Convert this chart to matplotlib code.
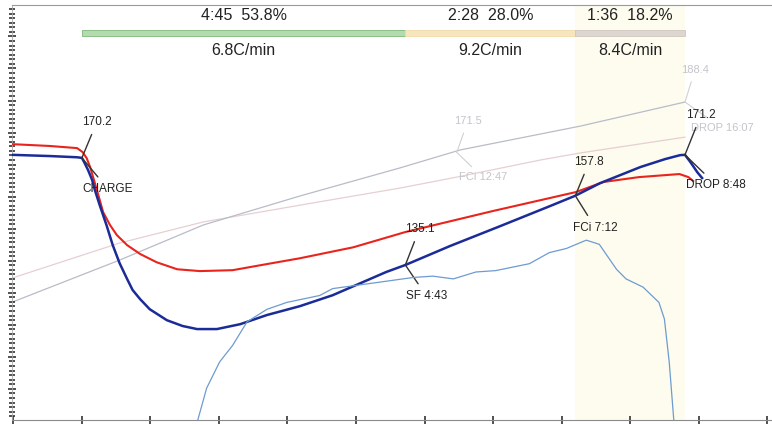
import matplotlib
matplotlib.use("Agg")
import matplotlib.pyplot as plt
from matplotlib.ticker import MultipleLocator

plt.rcParams['font.family'] = ['Liberation Sans', 'DejaVu Sans']

# bean temperature (minutes from charge, deg C)
bt_time = [-1.02, -0.47, -0.07, 0.0, 0.04, 0.09, 0.15, 0.19, 0.26, 0.36, 0.45, 0.55, 0.66,
           0.74, 0.85, 0.99, 1.24, 1.47, 1.68, 1.97, 2.31, 2.70, 3.18, 3.66, 4.44, 4.72,
           5.37, 6.10, 6.83, 7.20, 7.56, 8.15, 8.51, 8.73, 8.80, 8.88, 8.98, 9.05]
bt_temp = [171.2, 170.8, 170.4, 170.2, 168.5, 166.2, 162.9, 159.6, 154.7, 148.1, 141.6, 135.7, 130.5,
           126.9, 123.9, 120.6, 117.0, 115.1, 114.1, 114.1, 115.7, 118.7, 121.6, 125.2, 132.8, 135.1,
           141.3, 147.8, 154.4, 157.8, 161.9, 167.2, 169.8, 171.1, 171.2, 168.8, 165.5, 163.6]

# environment temperature
et_time = [-1.02, -0.47, -0.07, 0.01, 0.07, 0.12, 0.22, 0.31, 0.41, 0.51, 0.66, 0.85,
           1.09, 1.39, 1.72, 2.20, 2.70, 3.18, 3.96, 4.72, 6.00, 7.21, 7.61, 8.13, 8.72,
           8.85, 8.92]
et_temp = [174.7, 174.1, 173.4, 172.1, 170.1, 167.2, 159.6, 152.4, 148.2, 144.9, 141.6, 138.7,
           136.0, 133.7, 133.1, 133.4, 135.4, 137.3, 140.9, 145.9, 152.8, 159.0, 162.3, 163.9, 164.9,
           163.9, 162.6]

# background reference profile
ref_bt_time = [-1.02, 0.55, 1.77, 3.18, 4.64, 5.52, 7.27, 8.80]
ref_bt_temp = [122.9, 136.7, 148.2, 157.7, 166.9, 172.8, 180.6, 188.5]
ref_et_time = [-1.02, 0.55, 1.77, 3.18, 4.64, 5.47, 6.69, 7.27, 8.80]
ref_et_temp = [130.8, 142.3, 149.2, 154.7, 160.3, 163.9, 169.5, 171.8, 177.0]

# rate of rise (C/min)
ror_time = [1.68, 1.82, 2.01, 2.20, 2.41, 2.70, 2.99, 3.47, 3.66, 4.25, 4.54, 4.83, 5.12,
            5.42, 5.75, 6.04, 6.53, 6.82, 7.07, 7.36, 7.55, 7.80, 7.94, 8.19, 8.42, 8.50,
            8.57, 8.64]
ror_val = [-0.2, 2.3, 4.2, 5.4, 7.1, 8.0, 8.5, 9.0, 9.5, 9.9, 10.1, 10.3, 10.4,
           10.2, 10.7, 10.8, 11.3, 12.1, 12.4, 13.0, 12.7, 10.9, 10.2, 9.6, 8.5, 7.3,
           4.2, -0.2]

# roast phases
phase_start = [0.0, 4.72, 7.2]
phase_end = [4.72, 7.2, 8.8]
phase_top = ["4:45  53.8%", "2:28  28.0%", "1:36  18.2%"]
phase_rate = ["6.8C/min", "9.2C/min", "8.4C/min"]
phase_colors = ["#b3dcae", "#f7e6bd", "#ddd5cf"]
phase_edges = ["#7fb87a", "#f0dca8", "#cfc6bf"]

# events
event_time = [0.0, 4.72, 7.2, 8.8]
event_temp = [170.2, 135.1, 157.8, 171.2]
event_value = ["170.2", "135.1", "157.8", "171.2"]
event_name = ["CHARGE", "SF 4:43", "FCi 7:12", "DROP 8:48"]
value_offset = [(15, 36), (14, 36), (14, 34), (16, 40)]
name_offset = [(26, -31), (21, -31), (20, -32), (31, -30)]

ref_event_time = [5.47, 8.8]
ref_event_temp = [172.0, 188.5]
ref_event_value = ["171.5", "188.4"]
ref_event_name = ["FCi 12:47", "DROP 16:07"]
ref_value_offset = [(11, 31), (10, 32)]
ref_name_offset = [(26, -25), (37, -26)]

fig = plt.figure(figsize=(7.72, 4.25), dpi=100)
ax = fig.add_axes([12 / 772, 5 / 425, 1 - 12 / 772, 415 / 425])
ax.set_xlim(-1.02, 10.07)
ax.set_ylim(84.3, 220.3)

ax.axvspan(7.2, 8.8, color="#fdfcef", zorder=0, lw=0)

ax.plot(ref_et_time, ref_et_temp, color="#e6cfd3", lw=0.9, zorder=1)
ax.plot(ref_bt_time, ref_bt_temp, color="#b9bcc8", lw=0.9, zorder=1)
ax.plot(et_time, et_temp, color="#e8241c", lw=1.5, zorder=3)
ax.plot(bt_time, bt_temp, color="#1b2b97", lw=1.8, zorder=4)

ax2 = ax.twinx()
ax2.set_ylim(0, 30)
ax2.plot(ror_time, ror_val, color="#6e9bd0", lw=0.9)
ax2.axis("off")

# phase bars and labels
for s, e, c, ec, top, rate in zip(phase_start, phase_end, phase_colors, phase_edges,
                                  phase_top, phase_rate):
    ax.broken_barh([(s, e - s)], (210.1, 2.0), facecolors=c, edgecolors=ec, lw=0.6, zorder=2)
    mid = (s + e) / 2
    ax.text(mid, 217.0, top, ha="center", va="center", fontsize=11.5, color="#222222")
    ax.text(mid, 205.5, rate, ha="center", va="center", fontsize=11.5, color="#222222")

for t, y, val, name, vo, no in zip(event_time, event_temp, event_value, event_name,
                                   value_offset, name_offset):
    ax.annotate(val, xy=(t, y), xytext=vo, textcoords="offset pixels", ha="center",
                va="center", fontsize=8.5, color="#222222", zorder=6,
                arrowprops=dict(arrowstyle="-", color="#333333", lw=1.0, shrinkA=3, shrinkB=0))
    ax.annotate(name, xy=(t, y), xytext=no, textcoords="offset pixels", ha="center",
                va="center", fontsize=8.5, color="#222222", zorder=6,
                arrowprops=dict(arrowstyle="-", color="#333333", lw=1.0, shrinkA=3, shrinkB=0))

for t, y, val, name, vo, no in zip(ref_event_time, ref_event_temp, ref_event_value,
                                   ref_event_name, ref_value_offset, ref_name_offset):
    ax.annotate(val, xy=(t, y), xytext=vo, textcoords="offset pixels", ha="center",
                va="center", fontsize=8, color="#c4c4cc", zorder=2,
                arrowprops=dict(arrowstyle="-", color="#d0d0d6", lw=0.8, shrinkA=3, shrinkB=0))
    ax.annotate(name, xy=(t, y), xytext=no, textcoords="offset pixels", ha="center",
                va="center", fontsize=8, color="#c4c4cc", zorder=2,
                arrowprops=dict(arrowstyle="-", color="#d0d0d6", lw=0.8, shrinkA=3, shrinkB=0))

# axes styling
ax.xaxis.set_major_locator(MultipleLocator(1))
ax.yaxis.set_major_locator(MultipleLocator(10.5))
ax.yaxis.set_minor_locator(MultipleLocator(1.5))
ax.tick_params(axis="x", which="major", direction="inout", length=6, width=1.2,
               color="#333333", labelbottom=False)
ax.tick_params(axis="y", which="major", direction="inout", length=6, width=1.2,
               color="#333333", labelleft=False)
ax.tick_params(axis="y", which="minor", direction="inout", length=4, width=1.2,
               color="#333333")
ax.spines["right"].set_visible(False)
ax.spines["top"].set_color("#9a9a9a")
ax.spines["top"].set_linewidth(0.8)
ax.spines["bottom"].set_color("#8a8a8a")
ax.spines["bottom"].set_linewidth(0.8)
ax.spines["left"].set_color("#aaaaaa")
ax.spines["left"].set_linewidth(0.6)

fig.savefig("out.png", dpi=100)
